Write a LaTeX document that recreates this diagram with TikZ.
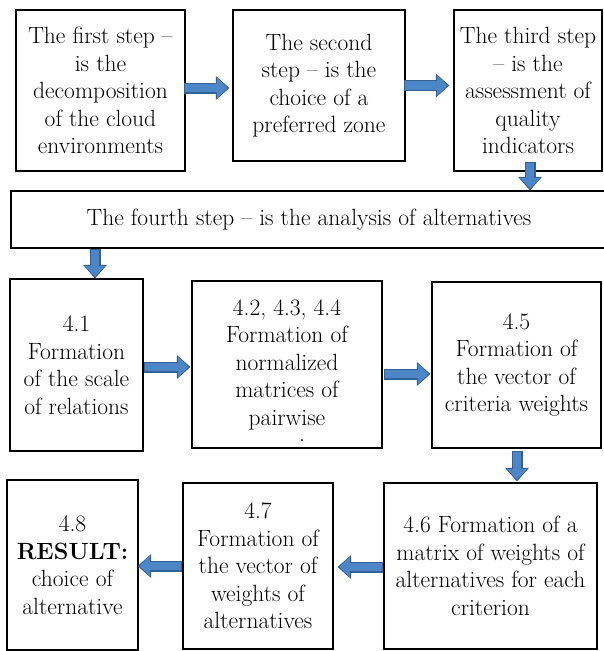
\documentclass[tikz,border=0pt]{standalone}
\usepackage{tikz}
\usetikzlibrary{arrows.meta,calc}
\definecolor{arrowfill}{RGB}{76,134,198}
\definecolor{arrowedge}{RGB}{52,96,148}
\tikzset{
	stepbox/.style={draw=black, line width=1.3pt, fill=white, align=center, inner sep=2pt,
		font=\fontsize{23.5}{27.5}\selectfont},
	blockarrow/.style={draw=arrowfill, line width=8.6pt,
		-{Triangle[length=10.4pt, width=20.6pt, line width=0pt, fill=arrowfill]},
		shorten >=1.9pt, shorten <=1.2pt,
		preaction={draw=arrowedge, line width=11pt,
			-{Triangle[length=13.5pt, width=24pt, line width=0pt, fill=arrowedge]},
			shorten >=0pt, shorten <=0pt}}
}

\begin{document}
\begin{tikzpicture}[x=1pt, y=-1pt]
		\useasboundingbox (0,0) rectangle (603,651);
		% Draw the first three steps
		\node[stepbox, minimum width=169pt, minimum height=161pt] (s1) at (100.5,90.5) {The first step --\\is the\\decomposition\\of the cloud\\environments};
		\node[stepbox, minimum width=172pt, minimum height=151pt] (s2) at (319,85.5) {The second\\step -- is the\\choice of a\\preferred zone};
		\node[stepbox, minimum width=148pt, minimum height=161pt] (s3) at (528,90.5) {The third step\\-- is the\\assessment of\\quality\\indicators};
		% Draw the fourth step across the page
		\node[stepbox, minimum width=596pt, minimum height=57pt] (s4) at (309,219.5) {The fourth step -- is the analysis of alternatives};
		% Draw the sub-steps of the fourth step
		\node[stepbox, minimum width=133pt, minimum height=172pt] (s41) at (76.5,365) {4.1\\Formation\\of the scale\\of relations};
		\node[stepbox, minimum width=190pt, minimum height=167pt] (s42) at (287,364.5) {4.2, 4.3, 4.4\\Formation of\\normalized\\matrices of\\pairwise};
		\node[anchor=base, font=\fontsize{23.5}{27.5}\selectfont, inner sep=0pt] (dot) at (302,441) {.};
		\node[stepbox, minimum width=169pt, minimum height=166pt] (s45) at (516.5,365) {4.5\\Formation of\\the vector of\\criteria weights};
		\node[stepbox, minimum width=213pt, minimum height=166pt] (s46) at (490.5,566) {4.6 Formation of a\\matrix of weights of\\alternatives for each\\criterion};
		\node[stepbox, minimum width=150pt, minimum height=166pt] (s47) at (258,566) {4.7\\Formation of\\the vector of\\weights of\\alternatives};
		\node[stepbox, minimum width=131pt, minimum height=170pt] (s48) at (72.5,565) {4.8\\\textbf{RESULT:}\\choice of\\alternative};
		% Draw the block arrows
		\draw[blockarrow] ($(s1.east)+(-2,-2.5)$) -- ($(s1.east -| s2.west)+(-3,-2.5)$);
		\draw[blockarrow] ($(s2.east)+(-2,0)$) -- ($(s2.east -| s3.west)+(-4,0)$);
		\draw[blockarrow] ($(s3.south)+(2,-10)$) -- ($(s3.south |- s4.north)+(2,0)$);
		\draw[blockarrow] ($(s41.north |- s4.south)+(18.5,0)$) -- ($(s41.north)+(18.5,0)$);
		\draw[blockarrow] ($(s41.east)+(0,2)$) -- ($(s41.east -| s42.west)+(-1,2)$);
		\draw[blockarrow] ($(s42.east)+(1,9.5)$) -- ($(s42.east -| s45.west)+(-1,9.5)$);
		\draw[blockarrow] ($(s45.south)+(0.5,2)$) -- ($(s45.south |- s46.north)+(0.5,-1)$);
		\draw[blockarrow] ($(s46.west)+(0,1)$) -- ($(s46.west -| s47.east)+(4,1)$);
		\draw[blockarrow] (s47.west) -- ($(s47.west -| s48.east)+(-1,0)$);
	\end{tikzpicture}
\end{document}
